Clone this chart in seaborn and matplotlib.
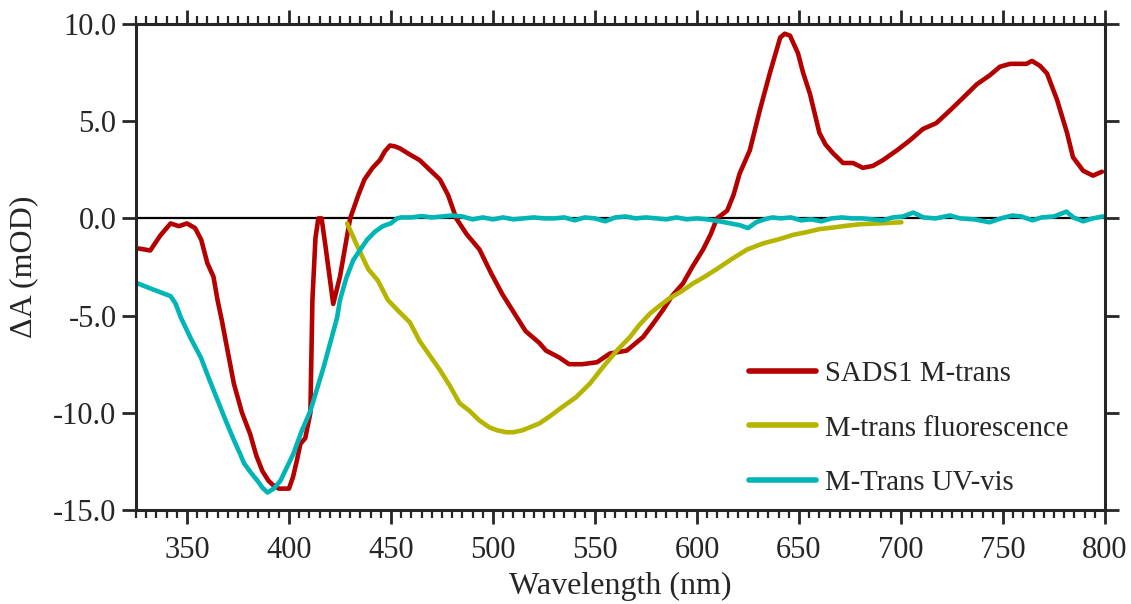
import numpy as np
import pandas as pd
import matplotlib
matplotlib.use("Agg")
import matplotlib.pyplot as plt
import seaborn as sns
from matplotlib.ticker import MultipleLocator, FuncFormatter

# SADS1 M-trans
sads_wl = [326.5, 332, 337, 342, 346, 350, 354, 357, 360, 363, 365, 367, 369, 373, 377,
           381, 384, 387, 390, 392, 395, 398.3, 400, 402, 404, 405.6, 408, 410.5, 411.5,
           413, 414.4, 416, 418, 421.7, 425, 428, 430, 434, 437, 441, 444.6, 447, 449.5,
           452, 454.4, 459, 464, 469, 474, 478, 482, 487, 493.4, 499, 504.6, 510, 516,
           522.7, 526, 532.4, 537.3, 543.7, 551, 557.3, 565.6, 573.6, 578.6, 583.4, 587.7,
           593.1, 597.7, 603, 606.8, 609.8, 614.8, 617.9, 620.9, 625.9, 630.9, 635.8,
           640.8, 643, 645.6, 649.5, 652, 655.4, 660, 663, 666.7, 671.6, 676.5, 681.3,
           686.2, 691.2, 698, 704.2, 710.8, 717.3, 724, 730.4, 737.2, 743.4, 748.5, 753.5,
           757.5, 761.5, 764.2, 768.1, 771.6, 776.5, 781.4, 784.3, 789.3, 794.1, 798.5]
sads_da = [-1.55, -1.65, -0.87, -0.26, -0.4, -0.26, -0.5, -1.1, -2.3, -3.0, -4.2, -5.2,
           -6.3, -8.5, -10.0, -11.1, -12.2, -13.0, -13.5, -13.7, -13.9, -13.9, -13.9,
           -13.3, -12.4, -11.6, -11.3, -10.0, -4.2, -1.0, 0.0, 0.0, -1.5, -4.4, -3.0,
           -1.2, 0.0, 1.2, 2.0, 2.6, 3.0, 3.45, 3.75, 3.7, 3.6, 3.3, 3.0, 2.5, 2.0, 1.2,
           0.0, -0.8, -1.6, -2.8, -3.9, -4.8, -5.8, -6.4, -6.8, -7.15, -7.5, -7.5, -7.4,
           -6.95, -6.8, -6.1, -5.4, -4.7, -4.0, -3.35, -2.5, -1.6, -0.8, 0.0, 0.4, 1.2,
           2.3, 3.5, 5.6, 7.5, 9.3, 9.5, 9.4, 8.5, 7.5, 6.4, 4.4, 3.8, 3.35, 2.85, 2.85,
           2.6, 2.7, 3.0, 3.5, 4.0, 4.6, 4.9, 5.55, 6.2, 6.9, 7.35, 7.8, 7.95, 7.95, 7.95,
           8.1, 7.85, 7.45, 6.1, 4.4, 3.15, 2.45, 2.2, 2.4]

# M-trans fluorescence
fluo_wl = [428.5, 433.4, 438.8, 443.6, 448.5, 454, 459.3, 464, 469, 474, 478.8, 483.6,
           488.5, 493.4, 498.3, 502, 506.6, 510, 514.4, 518, 522.7, 527.6, 534, 540.7,
           547.5, 553.9, 560.7, 567.2, 571.6, 576.9, 581.6, 586.7, 591.7, 598, 603.8,
           609.8, 616.9, 624.6, 632, 640.9, 647, 654, 660, 666.7, 673.1, 680.1, 686.2,
           691.2, 696.2, 700.2]
fluo_da = [-0.26, -1.4, -2.6, -3.2, -4.2, -4.8, -5.35, -6.3, -7.05, -7.8, -8.6, -9.5,
           -9.9, -10.4, -10.75, -10.9, -11.0, -11.0, -10.9, -10.75, -10.55, -10.2, -9.7,
           -9.2, -8.5, -7.65, -6.8, -6.1, -5.5, -4.9, -4.5, -4.1, -3.8, -3.35, -3.0,
           -2.6, -2.1, -1.6, -1.3, -1.05, -0.85, -0.7, -0.55, -0.47, -0.38, -0.3, -0.27,
           -0.25, -0.22, -0.2]

# M-Trans UV-vis
uv_wl = [326, 332, 337, 342, 344.5, 347, 352, 356.8, 361, 365, 369, 373, 376, 378,
         381.5, 384.6, 387, 389.5, 392.5, 395.8, 402.2, 406, 410.5, 417, 423.6, 425, 428,
         431.5, 435, 438.3, 442, 446, 450, 453, 455, 460, 465, 470, 475, 480, 485, 490,
         495, 500, 505, 510, 515, 520, 525, 530, 535, 540, 545, 550, 555, 560, 565, 570,
         575, 580, 585, 590, 595, 600, 605, 611, 616, 621, 625, 629, 633, 637, 641, 646,
         651, 656, 661, 666, 671, 676, 681, 686, 691, 696, 701, 706, 711, 717, 724, 729,
         736, 743.4, 749, 754.5, 759, 764.5, 769, 775, 781.1, 784.5, 789.3, 794, 799]
uv_da = [-3.35, -3.6, -3.8, -4.0, -4.4, -5.1, -6.2, -7.15, -8.3, -9.35, -10.4, -11.4,
         -12.1, -12.6, -13.1, -13.5, -13.85, -14.1, -13.9, -13.5, -12.1, -11.0, -9.9,
         -7.65, -5.1, -4.2, -3.1, -2.15, -1.6, -1.1, -0.7, -0.4, -0.25, 0.0, 0.05, 0.05,
         0.12, 0.05, 0.1, 0.15, 0.1, -0.05, 0.05, -0.05, 0.05, -0.05, 0.0, 0.05, 0.0,
         0.0, 0.05, -0.1, 0.05, 0.0, -0.15, 0.05, 0.1, 0.0, 0.05, 0.0, -0.05, 0.05, -0.05,
         0.0, -0.05, -0.15, -0.25, -0.35, -0.5, -0.2, -0.05, 0.05, 0.0, 0.05, -0.1,
         -0.05, -0.15, 0.0, 0.05, 0.0, 0.0, -0.05, -0.1, 0.05, 0.1, 0.3, 0.05, 0.0, 0.15,
         0.0, -0.05, -0.2, 0.0, 0.15, 0.1, -0.1, 0.05, 0.1, 0.35, 0.05, -0.15, 0.0, 0.1]

labels = ["SADS1 M-trans", "M-trans fluorescence", "M-Trans UV-vis"]
colors = ["#B50000", "#B5B500", "#00B5B5"]

df = pd.concat([
    pd.DataFrame({"wl": sads_wl, "dA": sads_da, "series": labels[0]}),
    pd.DataFrame({"wl": fluo_wl, "dA": fluo_da, "series": labels[1]}),
    pd.DataFrame({"wl": uv_wl, "dA": uv_da, "series": labels[2]}),
])

sns.set_theme(style="ticks")
plt.rcParams["font.family"] = ["Liberation Serif", "DejaVu Serif"]

fig = plt.figure(figsize=(11.31, 6.04), dpi=100)
ax = fig.add_axes([0.1202, 0.1556, 0.8568, 0.8047])

ax.axhline(0, color="black", lw=1.6, zorder=1)
sns.lineplot(data=df, x="wl", y="dA", hue="series", palette=dict(zip(labels, colors)),
             lw=3.3, sort=False, estimator=None, ax=ax, zorder=2)

ax.set_xlim(325, 800)
ax.set_ylim(-15, 10)
ax.xaxis.set_major_locator(MultipleLocator(50))
ax.xaxis.set_minor_locator(MultipleLocator(5))
ax.yaxis.set_major_locator(MultipleLocator(5))
ax.yaxis.set_major_formatter(FuncFormatter(lambda v, p: f"{v:.1f}"))

for s in ax.spines.values():
    s.set_linewidth(2.2)
    s.set_color("#262626")
ax.tick_params(axis="both", which="major", direction="out", length=10, width=2,
               color="#262626", labelsize=22, labelcolor="#262626",
               top=True, right=True)
ax.tick_params(axis="x", which="minor", direction="out", length=6, width=1.6,
               color="#262626", top=True, bottom=True)
ax.tick_params(axis="x", labeltop=False, pad=9)
ax.tick_params(axis="y", labelright=False, pad=4)

ax.set_xlabel("Wavelength (nm)", fontsize=23, color="#262626", labelpad=5)
ax.set_ylabel("ΔA (mOD)", fontsize=23, color="#262626", labelpad=11)

leg = ax.legend(loc="lower left", bbox_to_anchor=(0.633, 0.028), frameon=False,
                fontsize=20.7, handlelength=2.33, handletextpad=0.3, labelspacing=1.0,
                borderpad=0, borderaxespad=0)
for line in leg.get_lines():
    line.set_linewidth(4)

fig.savefig("out.png", dpi=100)
